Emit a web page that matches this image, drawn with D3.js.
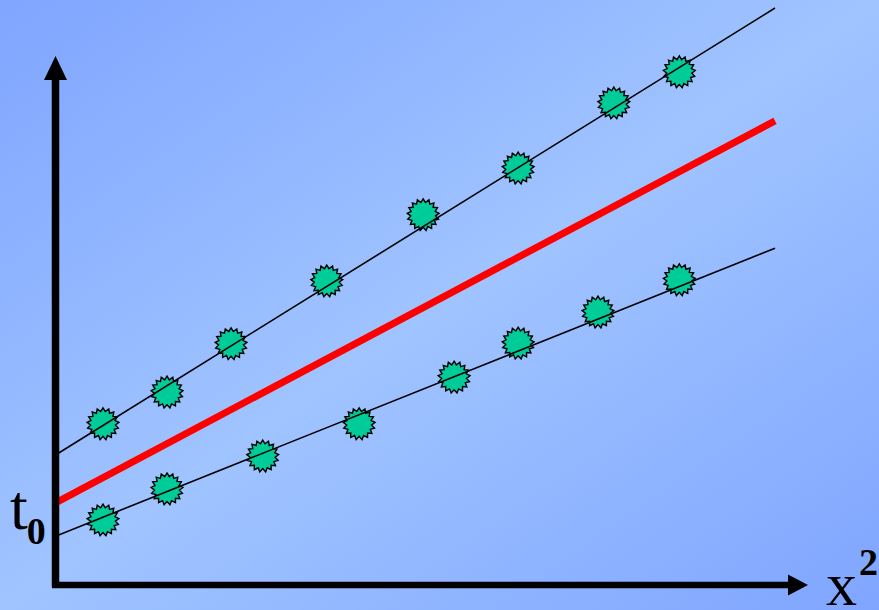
<!DOCTYPE html>
<html>
<head>
<meta charset="utf-8">
<script src="https://cdn.jsdelivr.net/npm/d3@7"></script>
<style>
	html, body { margin: 0; padding: 0; overflow: hidden; }
	svg { display: block; }
</style>
</head>
<body>
<div class="plot"></div>
<script>
//Data: x^2 vs t^2 (arbitrary units)
const upperX = [0.66, 1.55, 2.44, 3.77, 5.11, 6.43, 7.76, 8.67];
const upperT = [2.78, 3.33, 4.17, 5.26, 6.41, 7.22, 8.35, 8.89];
const lowerX = [0.66, 1.55, 2.88, 4.22, 5.54, 6.43, 7.54, 8.67];
const lowerT = [1.11, 1.65, 2.22, 2.78, 3.59, 4.18, 4.72, 5.28];
//fitted lines: [t^2 at x^2=0, t^2 at x^2=10]
const upperLine = [2.24, 10.0];
const redLine = [1.41, 8.04];
const lowerLine = [0.83, 5.83];

const w = 879, h = 610;
const svg = d3.select('.plot').append('svg').attr('width', w).attr('height', h);

//Background gradient
const defs = svg.append('defs');
const grad = defs.append('linearGradient').attr('id', 'bg')
	.attr('x1', 0).attr('y1', 0).attr('x2', 1).attr('y2', 1);
grad.append('stop').attr('offset', '0%').attr('stop-color', '#7fa5ff');
grad.append('stop').attr('offset', '50%').attr('stop-color', '#a0c4ff');
grad.append('stop').attr('offset', '100%').attr('stop-color', '#7fa5ff');
svg.append('rect').attr('width', w).attr('height', h).attr('fill', 'url(#bg)');

//Scales
const x = d3.scaleLinear().domain([0, 10]).range([55.5, 775]);
const y = d3.scaleLinear().domain([0, 10]).range([584, 8]);

//Fitted lines
const lineGen = d3.line().x(d => x(d[0])).y(d => y(d[1]));
function drawLine(ends, color, width){
	svg.append('path')
		.datum([[0, ends[0]], [10, ends[1]]])
		.attr('d', lineGen)
		.attr('fill', 'none')
		.attr('stroke', color)
		.attr('stroke-width', width);
}

//Starburst marker
const nPts = 17, rOut = 16, rIn = 12.5;
const star = d3.range(nPts * 2).map(i => {
	const a = i * Math.PI / nPts;
	const r = i % 2 === 0 ? rOut : rIn;
	return [r * Math.sin(a), -r * Math.cos(a)];
});
const starPath = 'M' + star.map(p => p.join(',')).join('L') + 'Z';

function drawMarkers(xs, ts){
	svg.append('g').selectAll('path')
		.data(xs.map((d, i) => [d, ts[i]]))
		.enter().append('path')
		.attr('d', starPath)
		.attr('transform', d => `translate(${x(d[0])},${y(d[1])})`)
		.attr('fill', '#00cc99')
		.attr('stroke', '#000')
		.attr('stroke-width', 1.4);
}

drawMarkers(upperX, upperT);
drawMarkers(lowerX, lowerT);
drawLine(upperLine, '#000', 1.6);
drawLine(lowerLine, '#000', 1.6);
drawLine(redLine, '#ff0000', 7);

//Axes
const x0 = x(0), y0 = y(0);
svg.append('line')
	.attr('x1', x0).attr('y1', y0 + 3).attr('x2', x0).attr('y2', 78)
	.attr('stroke', '#000').attr('stroke-width', 7.5);
svg.append('path')
	.attr('d', `M${x0},56 L${x0 + 11.5},80 L${x0 - 11.5},80 Z`)
	.attr('fill', '#000');
svg.append('line')
	.attr('x1', x0 - 3.5).attr('y1', y0 + 1).attr('x2', 790).attr('y2', y0 + 1)
	.attr('stroke', '#000').attr('stroke-width', 6.5);
svg.append('path')
	.attr('d', `M808,${y0 + 1} L788,${y0 - 9.5} L788,${y0 + 11.5} Z`)
	.attr('fill', '#000');

//Labels
const t0 = svg.append('text')
	.attr('x', 10).attr('y', 529)
	.style('font-family', '"Liberation Serif", "Times New Roman", serif')
	.style('font-size', '64px');
t0.append('tspan').text('t');
t0.append('tspan').attr('y', 544).attr('dx', -1).style('font-size', '38px').style('font-weight', 'bold').text('0');

const x2 = svg.append('text')
	.attr('x', 826).attr('y', 605)
	.style('font-family', '"Liberation Serif", "Times New Roman", serif')
	.style('font-size', '62px');
x2.append('tspan').text('x');
x2.append('tspan').attr('y', 575).attr('dx', 2).style('font-size', '38px').style('font-weight', 'bold').text('2');
</script>
</body>
</html>
